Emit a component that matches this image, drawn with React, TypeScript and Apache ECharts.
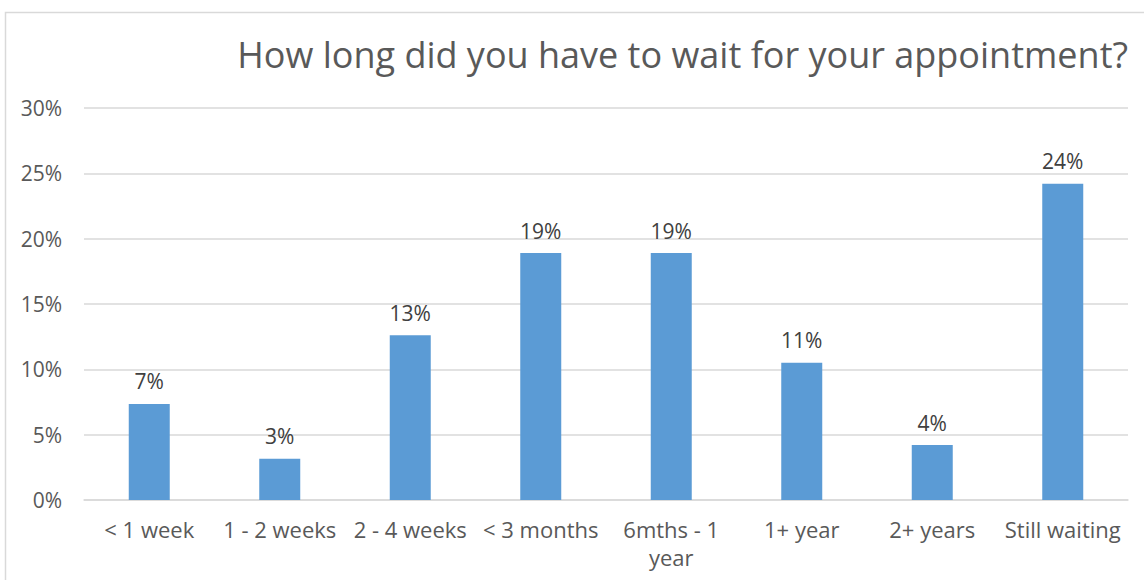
import React, { useEffect, useRef } from "react";
import * as echarts from "echarts";

const categories = ["< 1 week", "1 - 2 weeks", "2 - 4 weeks", "< 3 months", "6mths - 1 year", "1+ year", "2+ years", "Still waiting"];
const values = [7.35, 3.15, 12.6, 18.9, 18.9, 10.5, 4.2, 24.2];
const titleText = "How long did you have to wait for your appointment?";

const FONT = "'Open Sans', 'DejaVu Sans', sans-serif";

export default function App() {
  const ref = useRef<HTMLDivElement>(null);
  useEffect(() => {
    const chart = echarts.init(ref.current!, null, { renderer: "svg" });
    chart.setOption({
      animation: false,
      backgroundColor: "#ffffff",
      textStyle: { fontFamily: FONT },
      graphic: [
        {
          type: "rect",
          shape: { x: 5.5, y: 12.5, width: 1160, height: 600 },
          style: { fill: "none", stroke: "#d9d9d9", lineWidth: 1.5 },
          silent: true,
        },
        {
          type: "text",
          right: 16,
          top: 36,
          style: { text: titleText, fontSize: 36, fill: "#595959", fontFamily: FONT },
        },
      ],
      grid: { left: 84, right: 16, top: 108, bottom: 80, containLabel: false },
      xAxis: {
        type: "category",
        data: categories,
        axisLine: { show: true, lineStyle: { color: "#d9d9d9", width: 1.5 } },
        axisTick: { show: false },
        axisLabel: {
          color: "#595959",
          fontSize: 22,
          fontFamily: FONT,
          margin: 15,
          interval: 0,
          lineHeight: 28,
          formatter: (v: string) => {
            if (v.length > 13) {
              const i = v.lastIndexOf(" ");
              return v.slice(0, i) + "\n" + v.slice(i + 1);
            }
            return v;
          },
        },
      },
      yAxis: {
        type: "value",
        min: 0,
        max: 30,
        interval: 5,
        axisLine: { show: false },
        axisTick: { show: false },
        splitLine: { lineStyle: { color: "#d9d9d9", width: 1.5 } },
        axisLabel: {
          color: "#595959",
          fontSize: 21,
          fontFamily: FONT,
          margin: 22,
          formatter: (v: number) => v + "%",
        },
      },
      series: [
        {
          type: "bar",
          data: values,
          barWidth: 41,
          itemStyle: { color: "#5b9bd5" },
          label: {
            show: true,
            position: "top",
            distance: 12,
            color: "#404040",
            fontSize: 21,
            fontFamily: FONT,
            formatter: (p: any) => Math.round(p.value) + "%",
          },
        },
      ],
    });
    return () => chart.dispose();
  }, []);
  return <div ref={ref} style={{ position: "fixed", left: 0, top: 0, width: 1144, height: 580 }} />;
}
